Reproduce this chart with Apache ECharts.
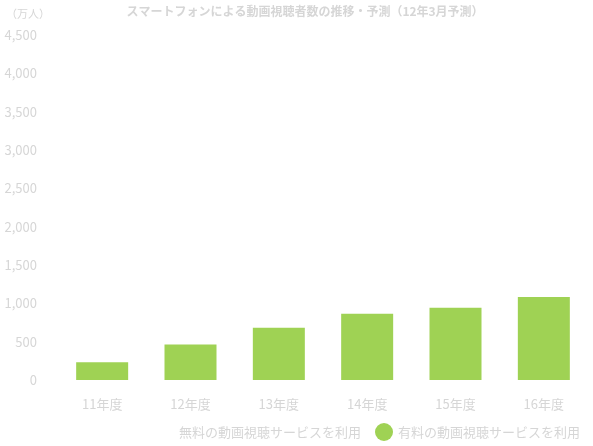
<!DOCTYPE html>
<html><head><meta charset="utf-8">
<script src="https://cdn.jsdelivr.net/npm/echarts@6/dist/echarts.min.js"></script>
<style>html,body{margin:0;background:#fff}#c{width:593px;height:446px}</style>
</head><body><div id="c"></div>
<script>
const years = ['11年度','12年度','13年度','14年度','15年度','16年度']
const freeUse = [0,0,0,0,0,0]
const paidUse = [232,464,683,863,941,1082]
const gray = '#d6d6d6'
const font = '"Noto Sans CJK JP", sans-serif'

let chart = echarts.init(document.getElementById('c'))
chart.setOption({
    animation: false,
    textStyle: {fontFamily: font},
    title: {
        text: 'スマートフォンによる動画視聴者数の推移・予測（12年3月予測）',
        left: 300, textAlign: 'center', top: 0,
        textStyle: {color: gray, fontSize: 12, fontWeight: 'bold', fontFamily: font}
    },
    graphic: [{type: 'text', left: 6, top: 8, style: {text: '（万人）', fill: gray, fontSize: 11, fontFamily: font}}],
    legend: {
        bottom: 0, right: 8, icon: 'circle', itemWidth: 18, itemHeight: 18, itemGap: 14,
        textStyle: {color: gray, fontSize: 13},
        data: ['無料の動画視聴サービスを利用', '有料の動画視聴サービスを利用']
    },
    grid: {left: 58, right: 5, top: 35, bottom: 66},
    xAxis: {
        type: 'category', data: years,
        axisLine: {show: false}, axisTick: {show: false},
        axisLabel: {color: gray, fontSize: 13, margin: 18}
    },
    yAxis: {
        type: 'value', min: 0, max: 4500, interval: 500,
        splitLine: {show: false},
        axisLabel: {color: gray, fontSize: 13, margin: 21, padding: [8, 0, 0, 0],
            formatter: v => v.toLocaleString('en-US')}
    },
    series: [
        {name: '無料の動画視聴サービスを利用', type: 'bar', stack: 'a', data: freeUse,
         itemStyle: {color: 'rgba(255,255,255,0)'}},
        {name: '有料の動画視聴サービスを利用', type: 'bar', stack: 'a', data: paidUse,
         barWidth: 52, itemStyle: {color: '#9fd254'}}
    ]
})
</script></body></html>
